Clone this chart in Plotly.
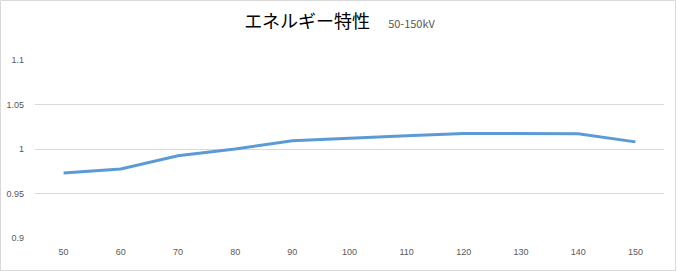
import plotly.graph_objects as go

categories = ["50", "60", "70", "80", "90", "100", "110", "120", "130", "140", "150"]
values = [0.973, 0.9775, 0.9925, 1.0, 1.0093, 1.0125, 1.015, 1.0175, 1.0175, 1.017, 1.008]
y_ticks = [0.9, 0.95, 1.0, 1.05, 1.1]
y_tick_labels = ["0.9", "0.95", "1", "1.05", "1.1"]

W, H = 679, 271
ML, MR, MT, MB = 35, 15, 60, 33

fig = go.Figure()
fig.add_trace(go.Scatter(
    x=categories, y=values, mode="lines",
    line=dict(color="#5b9bd5", width=3),
    showlegend=False,
))

pw = W - ML - MR
ph = H - MT - MB
fig.add_shape(
    type="rect", xref="paper", yref="paper",
    x0=(0.5 - ML) / pw, x1=(675.5 - ML) / pw,
    y0=(H - 270.5 - MB) / ph, y1=(H - 0.5 - MB) / ph,
    line=dict(color="#d9d9d9", width=1), fillcolor="rgba(0,0,0,0)", layer="below",
)

fig.update_layout(
    width=W, height=H,
    margin=dict(l=ML, r=MR, t=MT, b=MB),
    paper_bgcolor="white", plot_bgcolor="white",
    title=dict(
        text="エネルギー特性　<span style='font-size:11px;color:#595959'>50-150kV</span>",
        x=0.5, xanchor="center", y=1 - 22 / H, yanchor="middle",
        font=dict(family="Noto Sans CJK JP", size=18, color="#000000"),
    ),
    xaxis=dict(
        type="category", showgrid=False, zeroline=False, showline=False,
        ticks="", tickfont=dict(family="Liberation Sans", size=9, color="#595959"),
        range=[-0.5, len(categories) - 0.5], ticklabelstandoff=7, automargin=False,
    ),
    yaxis=dict(
        range=[0.9, 1.1], tickvals=y_ticks, ticktext=y_tick_labels,
        showgrid=True, gridcolor="#d9d9d9", gridwidth=1, zeroline=False,
        showline=False, ticks="", ticklabelstandoff=10, automargin=False,
        tickfont=dict(family="Liberation Sans", size=9, color="#595959"),
    ),
)

fig.write_html("out.html")
